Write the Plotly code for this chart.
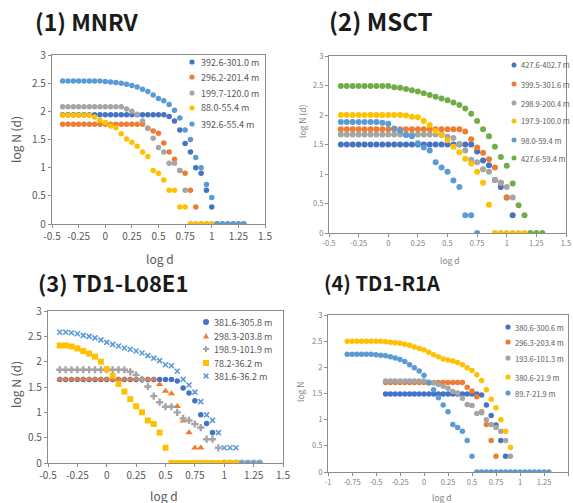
import plotly.graph_objects as go

# ---------------- data ----------------
LOG_D = [-0.8, -0.75, -0.7, -0.65, -0.6, -0.55, -0.5, -0.45, -0.4, -0.35, -0.3, -0.25,
         -0.2, -0.15, -0.1, -0.05, 0, 0.05, 0.1, 0.15, 0.2, 0.25, 0.3, 0.35, 0.4, 0.45,
         0.5, 0.55, 0.6, 0.65, 0.7, 0.75, 0.8, 0.85, 0.9, 0.95, 1, 1.05, 1.1, 1.15, 1.2,
         1.25, 1.3]

# (1) MNRV  -- all series start at log d = -0.4
MNRV_LABELS = ["392.6-301.0 m", "296.2-201.4 m", "199.7-120.0 m", "88.0-55.4 m", "392.6-55.4 m"]
MNRV_1 = [1.94, 1.94, 1.94, 1.94, 1.94, 1.94, 1.94, 1.94, 1.94, 1.94, 1.94, 1.94, 1.94, 1.94,
          1.94, 1.94, 1.94, 1.94, 1.94, 1.94, 1.91, 1.83, 1.67, 1.43, 1.28, 1.00, 0.90, 0.60,
          0.30, 0, 0, 0, 0, 0, 0]
MNRV_2 = [1.77, 1.77, 1.77, 1.77, 1.77, 1.77, 1.77, 1.77, 1.77, 1.77, 1.77, 1.77, 1.77, 1.77,
          1.77, 1.77, 1.70, 1.65, 1.61, 1.44, 1.28, 1.15, 0.95, 0.90, 0.60, 0.30, 0, 0, 0, 0,
          0, 0, 0, 0, 0]
MNRV_3 = [2.08, 2.08, 2.08, 2.08, 2.08, 2.08, 2.08, 2.08, 2.08, 2.08, 2.08, 2.08, 2.04, 2.00,
          1.95, 1.83, 1.70, 1.52, 1.36, 1.28, 1.08, 1.08, 0.95, 0.60, 0, 0, 0, 0, 0, 0, 0, 0,
          0, 0, 0]
MNRV_4 = [1.93, 1.93, 1.93, 1.93, 1.93, 1.93, 1.90, 1.84, 1.80, 1.74, 1.71, 1.60, 1.51, 1.45,
          1.38, 1.28, 1.20, 0.95, 0.90, 0.78, 0.60, 0.60, 0.30, 0.30, 0, 0, 0, 0, 0]
MNRV_5 = [2.54, 2.54, 2.54, 2.54, 2.54, 2.54, 2.54, 2.54, 2.53, 2.52, 2.51, 2.50, 2.48, 2.46,
          2.43, 2.39, 2.35, 2.29, 2.23, 2.19, 2.12, 2.02, 1.88, 1.67, 1.50, 1.18, 1.00, 0.70,
          0.47, 0, 0, 0, 0, 0, 0]

# (2) MSCT -- all series start at log d = -0.4
MSCT_LABELS = ["427.6-402.7 m", "399.5-301.6 m", "298.9-200.4 m", "197.9-100.0 m",
               "98.0-59.4 m", "427.6-59.4 m"]
MSCT_1 = [1.50, 1.50, 1.50, 1.50, 1.50, 1.50, 1.50, 1.50, 1.50, 1.50, 1.50, 1.50, 1.50, 1.50,
          1.50, 1.50, 1.50, 1.50, 1.50, 1.50, 1.50, 1.50, 1.50, 1.38, 1.23, 1.15, 0.90, 0.78,
          0.60, 0.30]
MSCT_2 = [1.76, 1.76, 1.76, 1.76, 1.76, 1.76, 1.76, 1.76, 1.76, 1.76, 1.76, 1.76, 1.76, 1.76,
          1.76, 1.76, 1.76, 1.76, 1.76, 1.76, 1.76, 1.72, 1.59, 1.45, 1.36, 1.25, 1.11, 0.85,
          0.60]
MSCT_3 = [1.67, 1.67, 1.67, 1.67, 1.67, 1.67, 1.67, 1.67, 1.67, 1.67, 1.67, 1.67, 1.67, 1.67,
          1.67, 1.67, 1.67, 1.67, 1.63, 1.61, 1.51, 1.40, 1.24, 1.20, 1.08, 1.04, 0.90, 0.85,
          0.78, 0.60]
MSCT_4 = [2.00, 2.00, 2.00, 2.00, 2.00, 2.00, 2.00, 2.00, 2.00, 2.00, 2.00, 1.99, 1.97, 1.96,
          1.90, 1.83, 1.73, 1.66, 1.57, 1.46, 1.37, 1.26, 1.18, 1.04, 0.85, 0.48, 0, 0, 0, 0,
          0, 0]
MSCT_5 = [1.88, 1.88, 1.88, 1.88, 1.88, 1.88, 1.88, 1.87, 1.85, 1.77, 1.73, 1.66, 1.64, 1.52,
          1.45, 1.40, 1.20, 1.11, 1.04, 0.89, 0.78, 0.30, 0.30, 0]
MSCT_6 = [2.49, 2.49, 2.49, 2.49, 2.49, 2.49, 2.49, 2.49, 2.49, 2.47, 2.46, 2.44, 2.42, 2.40,
          2.37, 2.34, 2.31, 2.28, 2.25, 2.21, 2.17, 2.11, 2.02, 1.90, 1.76, 1.64, 1.46, 1.29,
          1.14, 0.84, 0.47, 0.30, 0, 0, 0]

# (3) TD1-L08E1 -- all series start at log d = -0.4
L08_LABELS = ["381.6-305.8 m", "298.3-203.8 m", "198.9-101.9 m", "78.2-36.2 m", "381.6-36.2 m"]
L08_1 = [1.65, 1.65, 1.65, 1.65, 1.65, 1.65, 1.65, 1.65, 1.65, 1.65, 1.65, 1.65, 1.65, 1.65,
         1.65, 1.65, 1.65, 1.65, 1.65, 1.65, 1.62, 1.48, 1.38, 1.23, 0.95, 0.78, 0.60]
L08_2 = [1.65, 1.65, 1.65, 1.65, 1.65, 1.65, 1.65, 1.65, 1.65, 1.65, 1.65, 1.65, 1.65, 1.65,
         1.65, 1.65, 1.65, 1.55, 1.42, 1.37, 1.12, 0.83, 0.60, 0.30, 0.30]
L08_3 = [1.84, 1.84, 1.84, 1.84, 1.84, 1.84, 1.84, 1.84, 1.84, 1.84, 1.84, 1.84, 1.80, 1.74,
         1.65, 1.51, 1.32, 1.20, 1.11, 1.11, 1.00, 0.88, 0.84, 0.77, 0.70, 0.47, 0.47, 0.30,
         0, 0, 0, 0, 0, 0, 0]
L08_4 = [2.32, 2.32, 2.30, 2.26, 2.21, 2.16, 2.10, 2.00, 1.85, 1.72, 1.56, 1.41, 1.26, 1.12,
         1.00, 0.84, 0.77, 0.60, 0.30, 0, 0, 0, 0, 0, 0, 0, 0, 0, 0, 0, 0]
L08_5 = [2.58, 2.58, 2.57, 2.55, 2.52, 2.50, 2.47, 2.43, 2.38, 2.34, 2.31, 2.27, 2.24, 2.21,
         2.17, 2.12, 2.07, 2.02, 1.94, 1.92, 1.81, 1.65, 1.54, 1.40, 1.21, 0.95, 0.84, 0.60,
         0.30, 0.30, 0.30, 0, 0, 0, 0]

# (4) TD1-R1A -- series 1-3 start at -0.4, series 4-5 at -0.8
R1A_LABELS = ["380.6-300.6 m", "296.3-203.4 m", "193.6-101.3 m", "380.6-21.9 m", "89.7-21.9 m"]
R1A_START = [-0.4, -0.4, -0.4, -0.8, -0.8]
R1A_1 = [1.49, 1.49, 1.49, 1.49, 1.49, 1.49, 1.49, 1.49, 1.49, 1.49, 1.49, 1.49, 1.49, 1.49,
         1.49, 1.49, 1.49, 1.49, 1.49, 1.49, 1.47, 1.28, 1.08, 0.90, 0.60, 0.30]
R1A_2 = [1.71, 1.71, 1.71, 1.71, 1.71, 1.71, 1.71, 1.71, 1.71, 1.71, 1.71, 1.71, 1.71, 1.71,
         1.71, 1.71, 1.71, 1.62, 1.55, 1.44, 1.15, 0.91, 0.60, 0.30]
R1A_3 = [1.74, 1.74, 1.74, 1.74, 1.74, 1.74, 1.74, 1.74, 1.74, 1.72, 1.70, 1.67, 1.64, 1.60,
         1.54, 1.51, 1.41, 1.29, 1.27, 1.12, 1.13, 1.00, 0.91, 0.85, 0.78, 0.60, 0.30]
R1A_4 = [2.50, 2.50, 2.50, 2.50, 2.50, 2.50, 2.50, 2.50, 2.49, 2.48, 2.47, 2.46, 2.44, 2.42,
         2.39, 2.36, 2.33, 2.29, 2.24, 2.20, 2.16, 2.14, 2.12, 2.09, 2.05, 1.99, 1.94, 1.86,
         1.75, 1.57, 1.39, 1.23, 1.00, 0.78, 0.47]
R1A_5 = [2.25, 2.25, 2.25, 2.25, 2.25, 2.25, 2.24, 2.23, 2.22, 2.20, 2.18, 2.15, 2.11, 2.05,
         1.99, 1.93, 1.85, 1.70, 1.57, 1.42, 1.28, 1.15, 0.91, 0.85, 0.78, 0.60, 0.30, 0, 0,
         0, 0, 0, 0, 0, 0, 0, 0, 0, 0, 0, 0, 0, 0]

TICKS_X_A = [-0.5, -0.25, 0, 0.25, 0.5, 0.75, 1, 1.25, 1.5]
TICKS_X_B = [-1, -0.75, -0.5, -0.25, 0, 0.25, 0.5, 0.75, 1, 1.25, 1.5]
TICKS_Y = [0, 0.5, 1, 1.5, 2, 2.5, 3]

PANEL_TITLES = ["(1) MNRV", "(2) MSCT", "(3) TD1-L08E1", "(4) TD1-R1A"]

# ---------------- styles ----------------
C_BLUE, C_ORANGE, C_GRAY, C_YELLOW, C_LBLUE, C_GREEN = (
    "#4472C4", "#ED7D31", "#A5A5A5", "#FFC000", "#5B9BD5", "#70AD47")
W, H = 573, 503
FONT = "Noto Sans CJK JP"
TXT = "#595959"
TXT2 = "#7F7F7F"


def xs_for(start, vals):
    i = LOG_D.index(start)
    return LOG_D[i:i + len(vals)]


def fx(p):
    return p / W


def fy(p):
    return 1 - p / H


fig = go.Figure()


def add_series(vals, start, name, color, axis, symbol="circle", size=6, line=None):
    fig.add_trace(go.Scatter(
        x=xs_for(start, vals), y=vals, mode="markers", name=name, showlegend=False,
        marker=dict(color=color, size=size, symbol=symbol,
                    line=line if line else dict(width=0)),
        xaxis="x" + axis, yaxis="y" + axis))


P1_COLORS = [C_BLUE, C_ORANGE, C_GRAY, C_YELLOW, C_LBLUE]
P2_COLORS = [C_BLUE, C_ORANGE, C_GRAY, C_YELLOW, C_LBLUE, C_GREEN]
P3_SYMBOLS = ["circle", "triangle-up", "cross", "square", "x-thin"]

for vals, name, col in zip([MNRV_1, MNRV_2, MNRV_3, MNRV_4, MNRV_5], MNRV_LABELS, P1_COLORS):
    add_series(vals, -0.4, name, col, "", size=5.5)

for vals, name, col in zip([MSCT_1, MSCT_2, MSCT_3, MSCT_4, MSCT_5, MSCT_6], MSCT_LABELS,
                           P2_COLORS):
    add_series(vals, -0.4, name, col, "2", size=6)

for vals, name, col, sym, sz in zip([L08_1, L08_2, L08_3, L08_4, L08_5], L08_LABELS,
                                    P1_COLORS, P3_SYMBOLS, [5.5, 6.5, 6, 6, 5]):
    ln = dict(width=1.6, color=col) if sym == "x-thin" else None
    add_series(vals, -0.4, name, col, "3", symbol=sym, size=sz, line=ln)

for vals, name, col, st in zip([R1A_1, R1A_2, R1A_3, R1A_4, R1A_5], R1A_LABELS,
                               P1_COLORS, R1A_START):
    add_series(vals, st, name, col, "4", size=5.5)

# plot areas in pixels: (left, right, top, bottom)
AREAS = [(52, 265, 55, 224), (329, 566, 56, 233), (48, 283, 311, 463), (328, 568, 315, 472)]
XRANGES = [[-0.5, 1.5], [-0.5, 1.5], [-0.5, 1.5], [-1, 1.5]]
XTICKS = [TICKS_X_A, TICKS_X_A, TICKS_X_A, TICKS_X_B]
TICKFONT = [dict(size=10, color=TXT), dict(size=7.5, color=TXT2),
            dict(size=10, color=TXT), dict(size=7.5, color=TXT2)]

layout = dict(
    width=W, height=H, margin=dict(l=0, r=0, t=0, b=0),
    paper_bgcolor="white", plot_bgcolor="white", showlegend=False,
    font=dict(family=FONT, color=TXT),
    annotations=[], shapes=[],
)
for k, (area, xr, xt, tf) in enumerate(zip(AREAS, XRANGES, XTICKS, TICKFONT)):
    sfx = "" if k == 0 else str(k + 1)
    l, r, t, b = area
    axcol = "#8C8C8C"
    layout["xaxis" + sfx] = dict(
        domain=[fx(l), fx(r)], range=xr, anchor="y" + sfx, tickvals=xt,
        ticktext=[f"{v:g}" for v in xt], showgrid=False, zeroline=False,
        showline=True, mirror=True, linecolor=axcol, linewidth=1.2,
        ticks="outside", ticklen=3, tickcolor=axcol, tickfont=tf, automargin=False)
    layout["yaxis" + sfx] = dict(
        domain=[fy(b), fy(t)], range=[0, 3], anchor="x" + sfx, tickvals=TICKS_Y,
        ticktext=[f"{v:g}" for v in TICKS_Y], showgrid=False, zeroline=False,
        showline=True, mirror=True, linecolor=axcol, linewidth=1.2,
        ticks="outside", ticklen=3, tickcolor=axcol, tickfont=tf, automargin=False)

# panel titles
for title, (px, py), fs in zip(PANEL_TITLES, [(33, 21), (327, 21), (36, 282), (322, 282)],
                               [23, 24, 22, 20]):
    layout["annotations"].append(dict(
        text="<b>" + title + "</b>", x=fx(px), y=fy(py), xref="paper", yref="paper",
        xanchor="left", yanchor="middle", showarrow=False,
        font=dict(size=fs, color="#1a1a1a", family=FONT)))

# axis titles
for text, px, py, size, rot in [
        ("log N (d)", 15, 140, 12, -90), ("log d", 160, 258, 12, 0),
        ("log N (d)", 302, 122, 8.5, -90), ("log d", 450, 260, 8.5, 0),
        ("log N (d)", 15, 385, 12, -90), ("log d", 164, 495, 12, 0),
        ("log N", 300, 392, 8.5, -90), ("log d", 442, 497, 8.5, 0)]:
    layout["annotations"].append(dict(
        text=text, x=fx(px), y=fy(py), xref="paper", yref="paper", xanchor="center",
        yanchor="middle", showarrow=False, textangle=rot,
        font=dict(size=size, color=TXT if size > 10 else TXT2, family=FONT)))


# legends (marker glyph + label), placed inside each plot area
def legend_glyph(sym, col, mx, my, r):
    base = dict(xref="paper", yref="paper", xsizemode="pixel", ysizemode="pixel",
                xanchor=fx(mx), yanchor=fy(my), layer="above")
    if sym == "circle":
        return dict(type="circle", x0=-r, x1=r, y0=-r, y1=r, fillcolor=col,
                    line=dict(width=0), **base)
    if sym == "square":
        return dict(type="rect", x0=-r, x1=r, y0=-r, y1=r, fillcolor=col,
                    line=dict(width=0), **base)
    if sym == "triangle-up":
        p = f"M{-r},{-r * 0.85}L{r},{-r * 0.85}L0,{r}Z"
        return dict(type="path", path=p, fillcolor=col, line=dict(width=0), **base)
    if sym == "cross":
        a, b = r, r * 0.35
        p = (f"M{-b},{-a}L{b},{-a}L{b},{-b}L{a},{-b}L{a},{b}L{b},{b}L{b},{a}"
             f"L{-b},{a}L{-b},{b}L{-a},{b}L{-a},{-b}L{-b},{-b}Z")
        return dict(type="path", path=p, fillcolor=col, line=dict(width=0), **base)
    a = r * 0.8
    p = f"M{-a},{-a}L{a},{a}M{-a},{a}L{a},{-a}"
    return dict(type="path", path=p, line=dict(width=1.5, color=col), **base)


LEGENDS = [
    (MNRV_LABELS, P1_COLORS, ["circle"] * 5, 192, 199, [62, 77, 93, 108, 124], 9, 2.6),
    (MSCT_LABELS, P2_COLORS, ["circle"] * 6, 514, 518.5, [65, 84, 103, 121, 140, 158], 7.5, 2.5),
    (L08_LABELS, P1_COLORS, P3_SYMBOLS, 206, 212, [322, 336, 349, 363, 376], 9, 3),
    (R1A_LABELS, P1_COLORS, ["circle"] * 5, 508, 513, [327, 342, 358, 377, 393], 7.5, 2.6),
]
for labels, cols, syms, mx, tx, rows, fs, r in LEGENDS:
    for lab, col, sym, ry in zip(labels, cols, syms, rows):
        layout["shapes"].append(legend_glyph(sym, col, mx, ry, r))
        layout["annotations"].append(dict(
            text=lab, x=fx(tx), y=fy(ry), xref="paper", yref="paper", xanchor="left",
            yanchor="middle", showarrow=False, font=dict(size=fs, color=TXT, family=FONT)))

fig.update_layout(**layout)
fig.write_html("out.html", config={"displayModeBar": False},
               post_script="document.body.style.margin='0';document.body.style.padding='0';")
